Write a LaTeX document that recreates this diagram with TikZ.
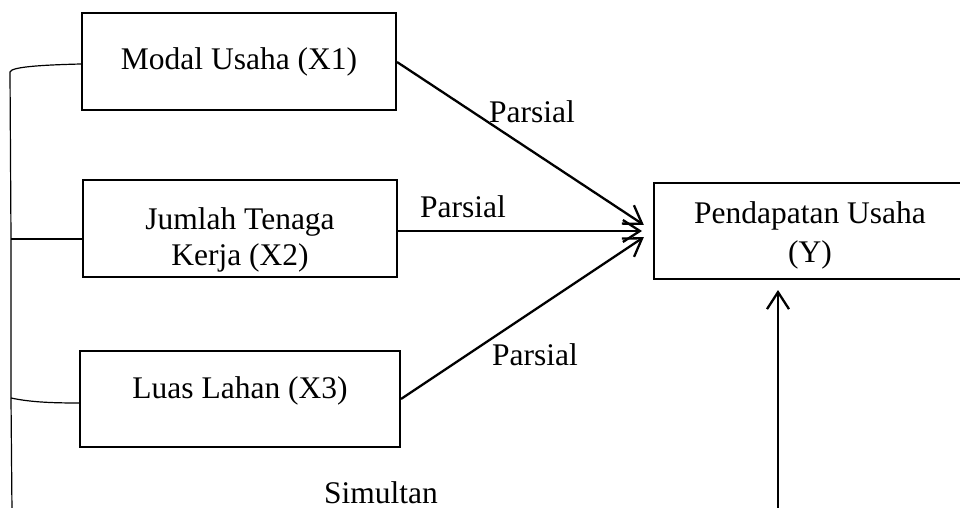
\documentclass[tikz,border=0pt]{standalone}
\usepackage{fontspec}
\setmainfont{Liberation Serif}
\usetikzlibrary{arrows.meta}
\begin{document}
\begin{tikzpicture}[x=1pt,y=-1pt,
  box/.style={draw, line width=2pt, inner sep=0pt},
  txt/.style={anchor=base, inner sep=0pt, font=\fontsize{31.5}{36}\selectfont},
  arr/.style={line width=2.3pt, -{Straight Barb[length=17pt,width=22pt,line width=2.3pt]}},
  brk/.style={line width=1.2pt}]
\useasboundingbox (0,0) rectangle (960,508);
\clip (0,0) rectangle (960,508);
% boxes
\node[box, minimum width=314pt, minimum height=97pt] (x1) at (239,61.5) {};
\node[box, minimum width=314pt, minimum height=97pt] (x2) at (240,228.5) {};
\node[box, minimum width=320pt, minimum height=96pt] (x3) at (240,399) {};
\node[box, minimum width=312pt, minimum height=96pt] (y) at (810,231) {};
% texts
\node[txt] at (239,70) {Modal Usaha (X1)};
\node[txt] at (240,229) {Jumlah Tenaga};
\node[txt] at (240,265) {Kerja (X2)};
\node[txt] at (240,398) {Luas Lahan (X3)};
\node[txt] at (810,223) {Pendapatan Usaha};
\node[txt] at (810,262) {(Y)};
\node[txt] at (532,122) {Parsial};
\node[txt] at (463,217) {Parsial};
\node[txt] at (535,365) {Parsial};
\node[txt] at (381,503) {Simultan};
% arrows
\draw[arr, shorten >=11pt] ([yshift=-0.5pt]x1.east) -- (y.west);
\draw[arr, shorten >=11pt] (x2.east |- y.west) -- (y.west);
\draw[arr, shorten >=11pt] (x3.east) -- (y.west);
\coordinate (sb) at (778,512);
\draw[arr, shorten >=10pt] (sb) -- (sb |- y.south);
% bracket
\coordinate (bt) at (10,72);
\coordinate (bm) at (11,239);
\coordinate (bb) at (11,398);
\coordinate (be) at (12,512);
\draw[brk] (be) -- (bb) -- (bm) -- (bt) .. controls (11,67) and (40,65) .. ([yshift=-2.5pt]x1.west);
\draw[brk] (bm) -- (x2.west |- bm);
\draw[brk] (bb) .. controls (30,402) and (50,403) .. ([yshift=-4pt]x3.west);
\end{tikzpicture}
\end{document}
